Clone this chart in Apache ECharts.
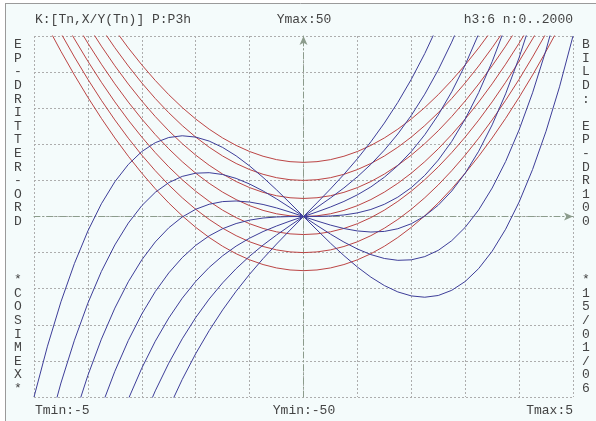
<!DOCTYPE html>
<html>
<head>
<meta charset="utf-8">
<script src="https://cdn.jsdelivr.net/npm/echarts@6/dist/echarts.min.js"></script>
<style>html,body{margin:0;padding:0;background:#fff}#c{width:596px;height:421px}</style>
</head>
<body>
<div id="c"></div>
<script>
// T sample points
var tValues = [-5,-4.75,-4.5,-4.25,-4,-3.75,-3.5,-3.25,-3,-2.75,-2.5,-2.25,-2,-1.75,-1.5,-1.25,-1,-0.75,-0.5,-0.25,
  0,0.25,0.5,0.75,1,1.25,1.5,1.75,2,2.25,2.5,2.75,3,3.25,3.5,3.75,4,4.25,4.5,4.75,5];

// Blue curves Y(T)
var blueA = [-50,-35.92,-23.63,-13.02,-4,3.52,9.63,14.42,18,20.45,21.88,22.36,22,20.89,19.13,16.8,14,10.83,7.38,3.73,
  0,-3.73,-7.38,-10.83,-14,-16.8,-19.13,-20.89,-22,-22.36,-21.88,-20.45,-18,-14.42,-9.63,-3.52,4,13.02,23.63,35.92,50];
var blueB = [-75,-59.67,-46.13,-34.27,-24,-15.23,-7.88,-1.83,3,6.7,9.38,11.11,12,12.14,11.63,10.55,9,7.08,4.88,2.48,
  0,-2.48,-4.88,-7.08,-9,-10.55,-11.63,-12.14,-12,-11.11,-9.38,-6.7,-3,1.83,7.88,15.23,24,34.27,46.13,59.67,75];
var blueC = [-100,-83.42,-68.63,-55.52,-44,-33.98,-25.38,-18.08,-12,-7.05,-3.13,-0.14,2,3.39,4.13,4.3,4,3.33,2.38,1.23,
  0,-1.23,-2.38,-3.33,-4,-4.3,-4.13,-3.39,-2,0.14,3.13,7.05,12,18.08,25.38,33.98,44,55.52,68.63,83.42,100];
var blueD = [-125,-107.17,-91.13,-76.77,-64,-52.73,-42.88,-34.33,-27,-20.8,-15.63,-11.39,-8,-5.36,-3.38,-1.95,-1,-0.42,-0.13,-0.02,
  0,0.02,0.13,0.42,1,1.95,3.38,5.36,8,11.39,15.63,20.8,27,34.33,42.88,52.73,64,76.77,91.13,107.17,125];
var blueE = [-150,-130.92,-113.63,-98.02,-84,-71.48,-60.38,-50.58,-42,-34.55,-28.13,-22.64,-18,-14.11,-10.88,-8.2,-6,-4.17,-2.63,-1.27,
  0,1.27,2.63,4.17,6,8.2,10.88,14.11,18,22.64,28.13,34.55,42,50.58,60.38,71.48,84,98.02,113.63,130.92,150];
var blueF = [-175,-154.67,-136.13,-119.27,-104,-90.23,-77.88,-66.83,-57,-48.3,-40.63,-33.89,-28,-22.86,-18.38,-14.45,-11,-7.92,-5.13,-2.52,
  0,2.52,5.13,7.92,11,14.45,18.38,22.86,28,33.89,40.63,48.3,57,66.83,77.88,90.23,104,119.27,136.13,154.67,175];
var blueG = [-200,-178.42,-158.63,-140.52,-124,-108.98,-95.38,-83.08,-72,-62.05,-53.13,-45.14,-38,-31.61,-25.88,-20.7,-16,-11.67,-7.63,-3.77,
  0,3.77,7.63,11.67,16,20.7,25.88,31.61,38,45.14,53.13,62.05,72,83.08,95.38,108.98,124,140.52,158.63,178.42,200];

// Red curves X(T)
var redA = [90,82.69,75.75,69.19,63,57.19,51.75,46.69,42,37.69,33.75,30.19,27,24.19,21.75,19.69,18,16.69,15.75,15.19,
  15,15.19,15.75,16.69,18,19.69,21.75,24.19,27,30.19,33.75,37.69,42,46.69,51.75,57.19,63,69.19,75.75,82.69,90];
var redB = [85,77.69,70.75,64.19,58,52.19,46.75,41.69,37,32.69,28.75,25.19,22,19.19,16.75,14.69,13,11.69,10.75,10.19,
  10,10.19,10.75,11.69,13,14.69,16.75,19.19,22,25.19,28.75,32.69,37,41.69,46.75,52.19,58,64.19,70.75,77.69,85];
var redC = [80,72.69,65.75,59.19,53,47.19,41.75,36.69,32,27.69,23.75,20.19,17,14.19,11.75,9.69,8,6.69,5.75,5.19,
  5,5.19,5.75,6.69,8,9.69,11.75,14.19,17,20.19,23.75,27.69,32,36.69,41.75,47.19,53,59.19,65.75,72.69,80];
var redD = [75,67.69,60.75,54.19,48,42.19,36.75,31.69,27,22.69,18.75,15.19,12,9.19,6.75,4.69,3,1.69,0.75,0.19,
  0,0.19,0.75,1.69,3,4.69,6.75,9.19,12,15.19,18.75,22.69,27,31.69,36.75,42.19,48,54.19,60.75,67.69,75];
var redE = [70,62.69,55.75,49.19,43,37.19,31.75,26.69,22,17.69,13.75,10.19,7,4.19,1.75,-0.31,-2,-3.31,-4.25,-4.81,
  -5,-4.81,-4.25,-3.31,-2,-0.31,1.75,4.19,7,10.19,13.75,17.69,22,26.69,31.75,37.19,43,49.19,55.75,62.69,70];
var redF = [65,57.69,50.75,44.19,38,32.19,26.75,21.69,17,12.69,8.75,5.19,2,-0.81,-3.25,-5.31,-7,-8.31,-9.25,-9.81,
  -10,-9.81,-9.25,-8.31,-7,-5.31,-3.25,-0.81,2,5.19,8.75,12.69,17,21.69,26.75,32.19,38,44.19,50.75,57.69,65];
var redG = [60,52.69,45.75,39.19,33,27.19,21.75,16.69,12,7.69,3.75,0.19,-3,-5.81,-8.25,-10.31,-12,-13.31,-14.25,-14.81,
  -15,-14.81,-14.25,-13.31,-12,-10.31,-8.25,-5.81,-3,0.19,3.75,7.69,12,16.69,21.75,27.19,33,39.19,45.75,52.69,60];

var blueSets = [blueA,blueB,blueC,blueD,blueE,blueF,blueG];
var redSets = [redA,redB,redC,redD,redE,redF,redG];

var topLeftText = 'K:[Tn,X/Y(Tn)] P:P3h';
var topMidText = 'Ymax:50';
var topRightText = 'h3:6 n:0..2000';
var botLeftText = 'Tmin:-5';
var botMidText = 'Ymin:-50';
var botRightText = 'Tmax:5';
var leftTopChars = ['E','P','-','D','R','I','T','T','E','R','-','O','R','D'];
var leftBotChars = ['*','C','O','S','I','M','E','X','*'];
var rightTopChars = ['B','I','L','D',':',' ','E','P','-','D','R','1','0','0'];
var rightBotChars = ['*','1','5','/','0','1','/','0','6'];

var BLUE = '#3d3d98';
var RED = '#bb4444';
var FONT = '"Liberation Mono", "DejaVu Sans Mono", monospace';

function pairs(ys){ return tValues.map(function(t,i){ return [t, ys[i]]; }); }

var series = [];
redSets.forEach(function(s){
  series.push({type:'line', data: pairs(s), smooth:false, symbol:'none', clip:true,
    lineStyle:{color:RED, width:1}, silent:true, animation:false});
});
blueSets.forEach(function(s){
  series.push({type:'line', data: pairs(s), smooth:false, symbol:'none', clip:true,
    lineStyle:{color:BLUE, width:1}, silent:true, animation:false});
});

function txt(x,y,s,align,vAlign,lh){
  return {type:'text', x:x, y:y, silent:true, style:{text:s, fill:'#444444', font:'13px '+FONT,
    align:align, verticalAlign:vAlign, lineHeight:lh||13}};
}

var chart = echarts.init(document.getElementById('c'), null, {renderer:'canvas'});
chart.setOption({
  backgroundColor:'#f4fbfb',
  animation:false,
  grid:{left:34, right:23, top:36, bottom:24, containLabel:false},
  xAxis:{type:'value', min:-5, max:5, interval:1,
    axisLabel:{show:false}, axisTick:{show:false},
    axisLine:{show:true, onZero:true, symbol:['none','arrow'], symbolSize:[6,9],
      lineStyle:{color:'#8c9c8c', width:1, type:[6,3,1,3]}},
    splitLine:{show:true, lineStyle:{color:'#adadad', width:1, type:[2,2]}}},
  yAxis:{type:'value', min:-50, max:50, interval:10,
    axisLabel:{show:false}, axisTick:{show:false},
    axisLine:{show:true, onZero:true, symbol:['none','arrow'], symbolSize:[6,9],
      lineStyle:{color:'#8c9c8c', width:1, type:[6,3,1,3]}},
    splitLine:{show:true, lineStyle:{color:'#adadad', width:1, type:[2,2]}}},
  series: series,
  graphic:[
    {type:'rect', shape:{x:0,y:0,width:596,height:3}, style:{fill:'#ffffff'}, silent:true},
    {type:'rect', shape:{x:0,y:0,width:5,height:421}, style:{fill:'#ffffff'}, silent:true},
    {type:'line', shape:{x1:5,y1:3.5,x2:596,y2:3.5}, style:{stroke:'#9a9a9a', lineWidth:1}, silent:true},
    {type:'line', shape:{x1:5.5,y1:3,x2:5.5,y2:421}, style:{stroke:'#9a9a9a', lineWidth:1}, silent:true},
    txt(35,20,topLeftText,'left','middle'),
    txt(304,20,topMidText,'center','middle'),
    txt(573,20,topRightText,'right','middle'),
    txt(35,411,botLeftText,'left','middle'),
    txt(304,411,botMidText,'center','middle'),
    txt(573,411,botRightText,'right','middle'),
    txt(18,38,leftTopChars.join('\n'),'center','top',13.6),
    txt(18,273,leftBotChars.join('\n'),'center','top',13.6),
    txt(586,38,rightTopChars.join('\n'),'center','top',13.6),
    txt(586,273,rightBotChars.join('\n'),'center','top',13.6)
  ]
});
</script>
</body>
</html>
